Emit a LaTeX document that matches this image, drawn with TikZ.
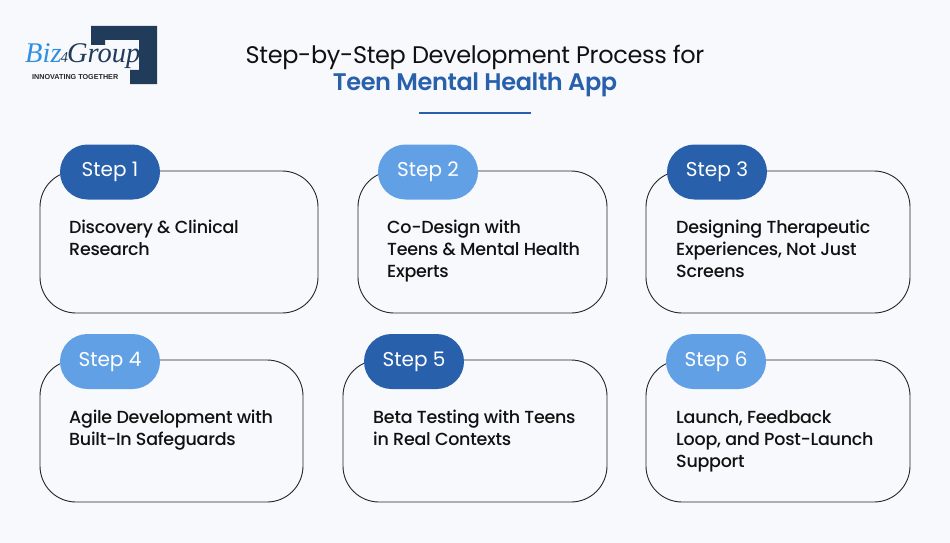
\documentclass[tikz,border=0pt]{standalone}
\usepackage{fontspec}
\setmainfont{Poppins}
\newfontfamily\medfont{Poppins Medium}
\newfontfamily\semifont{Poppins SemiBold}
\newfontfamily\logofont{Liberation Serif}
\newfontfamily\logosans{Liberation Sans}
\definecolor{bgc}{HTML}{F8F9FC}
\definecolor{deepb}{HTML}{2860AC}
\definecolor{lightb}{HTML}{62A0E6}
\definecolor{logob}{HTML}{2F8FE0}
\definecolor{navy}{HTML}{213C5B}
\definecolor{ink}{HTML}{111111}
\tikzset{
  x=1pt,y=-1pt,
  card/.style={draw=black!85,line width=0.9pt,rounded corners=36pt,fill=bgc},
  pill/.style={rounded corners=27.5pt,minimum width=100pt,minimum height=55pt,inner sep=0pt,text=white,font=\fontsize{20}{24}\selectfont},
  deep/.style={pill,fill=deepb},
  light/.style={pill,fill=lightb},
  body/.style={anchor=north west,align=left,text=ink,inner sep=0pt,font=\medfont\fontsize{17.5}{22}\selectfont\addfontfeatures{LetterSpace=-1.5}},
}
\begin{document}
\begin{tikzpicture}
\useasboundingbox (0,0) rectangle (950,543);
\fill[bgc] (0,0) rectangle (950,543);
% logo
\fill[navy] (91,26) -- (157,26) -- (157,84) -- (130,84) -- (130,70) -- (139,70) -- (139,40) -- (105,40) -- (105,45) -- (91,45) -- cycle;
\node[anchor=west,inner sep=0pt,font=\logofont\itshape\fontsize{28.5}{30}\selectfont,text=navy] (logo) at (25,56) {{\color{logob}Biz}\hspace{-1pt}{\fontsize{15}{15}\selectfont 4}\hspace{-1pt}Group};
\node[anchor=west,inner sep=0pt,font=\logosans\bfseries\fontsize{7.2}{9}\selectfont,text=black!85] (tag) at (32,77) {INNOVATING TOGETHER};
% title
\node[font=\fontsize{24}{28}\selectfont\addfontfeatures{LetterSpace=-1.4},text=ink,inner sep=0pt] (t1) at (475,57) {Step-by-Step Development Process for};
\node[font=\semifont\fontsize{24}{28}\selectfont\addfontfeatures{LetterSpace=-1.5},text=deepb,inner sep=0pt] (t2) at (475,85) {Teen Mental Health App};
\draw[deepb,line width=1.5pt] (419,113) -- (531,113);
% cards
\draw[card] (40,171) rectangle (318,313);
\draw[card] (358,171) rectangle (607,313);
\draw[card] (646,171) rectangle (910,313);
\draw[card] (40,360) rectangle (303,502);
\draw[card] (343,360) rectangle (607,502);
\draw[card] (646,360) rectangle (910,502);
% pills
\node[deep]  (s1) at (110,172) {Step 1};
\node[light] (s2) at (428,172) {Step 2};
\node[deep]  (s3) at (717,172) {Step 3};
\node[light] (s4) at (110,361.5) {Step 4};
\node[deep]  (s5) at (414,361.5) {Step 5};
\node[light] (s6) at (716,361.5) {Step 6};
% texts
\node[body] (b1) at (69,220) {Discovery \& Clinical\\Research};
\node[body] (b2) at (387,220) {Co-Design with\\Teens \& Mental Health\\Experts};
\node[body] (b3) at (676,220) {Designing Therapeutic\\Experiences, Not Just\\Screens};
\node[body] (b4) at (69,410) {Agile Development with\\Built-In Safeguards};
\node[body] (b5) at (373,410) {Beta Testing with Teens\\in Real Contexts};
\node[body] (b6) at (676,410) {Launch, Feedback\\Loop, and Post-Launch\\Support};
\end{tikzpicture}
\end{document}
